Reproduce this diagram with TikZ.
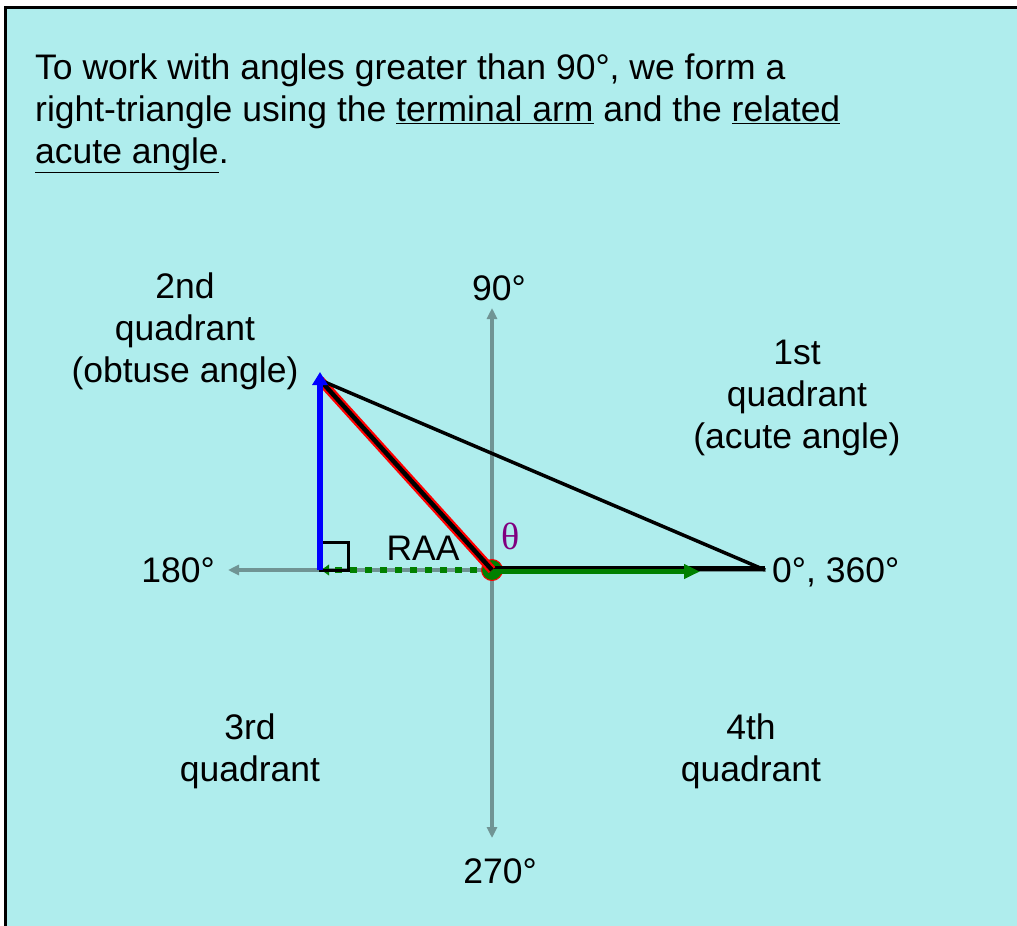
\documentclass[tikz,border=0pt]{standalone}
\usepackage{fontspec}
\setmainfont{Liberation Sans}
\newfontfamily\thetafont{Liberation Serif}
\usetikzlibrary{arrows.meta}
\definecolor{panelcyan}{RGB}{175,237,237}
\definecolor{axisgray}{RGB}{112,148,148}
\definecolor{armgreen}{RGB}{0,128,0}
\definecolor{thetapurple}{RGB}{128,0,128}
\tikzset{
  txt/.style={
    font=\fontsize{35.5}{42}\selectfont,
    align=center,
    inner sep=0pt
  },
  axis/.style={
    draw=axisgray,
    line width=3.5pt
  },
  armline/.style={
    line width=5pt,
    draw=black
  },
  arrowgreen/.style={
    -{Triangle[length=16pt,width=14pt]},
    line width=5pt,
    draw=armgreen
  },
  dotgreen/.style={
    -{Latex[length=9pt,width=12pt]},
    line width=6pt,
    draw=armgreen,
    dash pattern=on 7pt off 8pt
  },
  bluearrow/.style={
    -{Triangle[length=13pt,width=15pt]},
    line width=6pt,
    draw=blue
  }
}

\begin{document}
\begin{tikzpicture}[x=1pt,y=-1pt]
  \useasboundingbox (0,0) rectangle (1017,926);
  \clip (0,0) rectangle (1017,926);
  \draw[fill=panelcyan, line width=3pt] (5.5,7.5) rectangle (1040,950);

  \node[txt, align=left, anchor=north west] (intro) at (35,54)
    {To work with angles greater than 90°, we form a\\
     right-triangle using the \underline{terminal arm} and the \underline{related}\\
     \underline{acute angle}.};

  \coordinate (O) at (492,570);
  \coordinate (west) at (228,570);
  \coordinate (east) at (766,570);
  \coordinate (north) at (492,308);
  \coordinate (south) at (492,838);
  \coordinate (P) at (320,380);
  \coordinate (A) at (320,570);
  \coordinate (Q) at (765,570);

  \draw[axis, {Triangle[length=11pt,width=10pt]}-] (west) -- (east);
  \draw[axis, {Triangle[length=11pt,width=10pt]}-{Triangle[length=11pt,width=10pt]}] (north) -- (south);

  \node[circle, fill=armgreen, draw=red, line width=1pt, minimum size=21pt, inner sep=0pt] (Odot) at (O) {};

  \draw[dotgreen] (O) -- (A);
  \draw[line width=3pt] (A) rectangle ++(28,-28);
  \draw[armline] ([yshift=1.5pt]O) -- ([yshift=1.5pt]Q);
  \draw[arrowgreen] ([yshift=-1.5pt]O) -- ([yshift=-1.5pt]O -| 700,0);
  \draw[line width=9pt, red] (O) -- (P);
  \draw[line width=4.5pt] (O) -- (P);
  \draw[line width=3.5pt] (P) -- (Q);
  \draw[bluearrow, shorten >=-8pt] (A) -- (P);

  \node[txt, anchor=base] (deg90) at (499,300) {90°};
  \node[txt, anchor=base east] (deg180) at (215,582) {180°};
  \node[txt, anchor=base west] (deg0) at (772,582) {0°, 360°};
  \node[txt, anchor=base] (deg270) at (500,883) {270°};
  \node[txt, anchor=base] (raa) at (423,560) {RAA};
  \node[txt, anchor=base, text=thetapurple, font=\thetafont\fontsize{38}{44}\selectfont] (theta) at (511,549) {θ};

  \node[txt, anchor=north] (quad2) at (185,273) {2nd\\quadrant\\(obtuse angle)};
  \node[txt, anchor=north] (quad1) at (797,340) {1st\\quadrant\\(acute angle)};
  \node[txt, anchor=north] (quad3) at (250,714) {3rd\\quadrant};
  \node[txt, anchor=north] (quad4) at (751,714) {4th\\quadrant};
\end{tikzpicture}
\end{document}
